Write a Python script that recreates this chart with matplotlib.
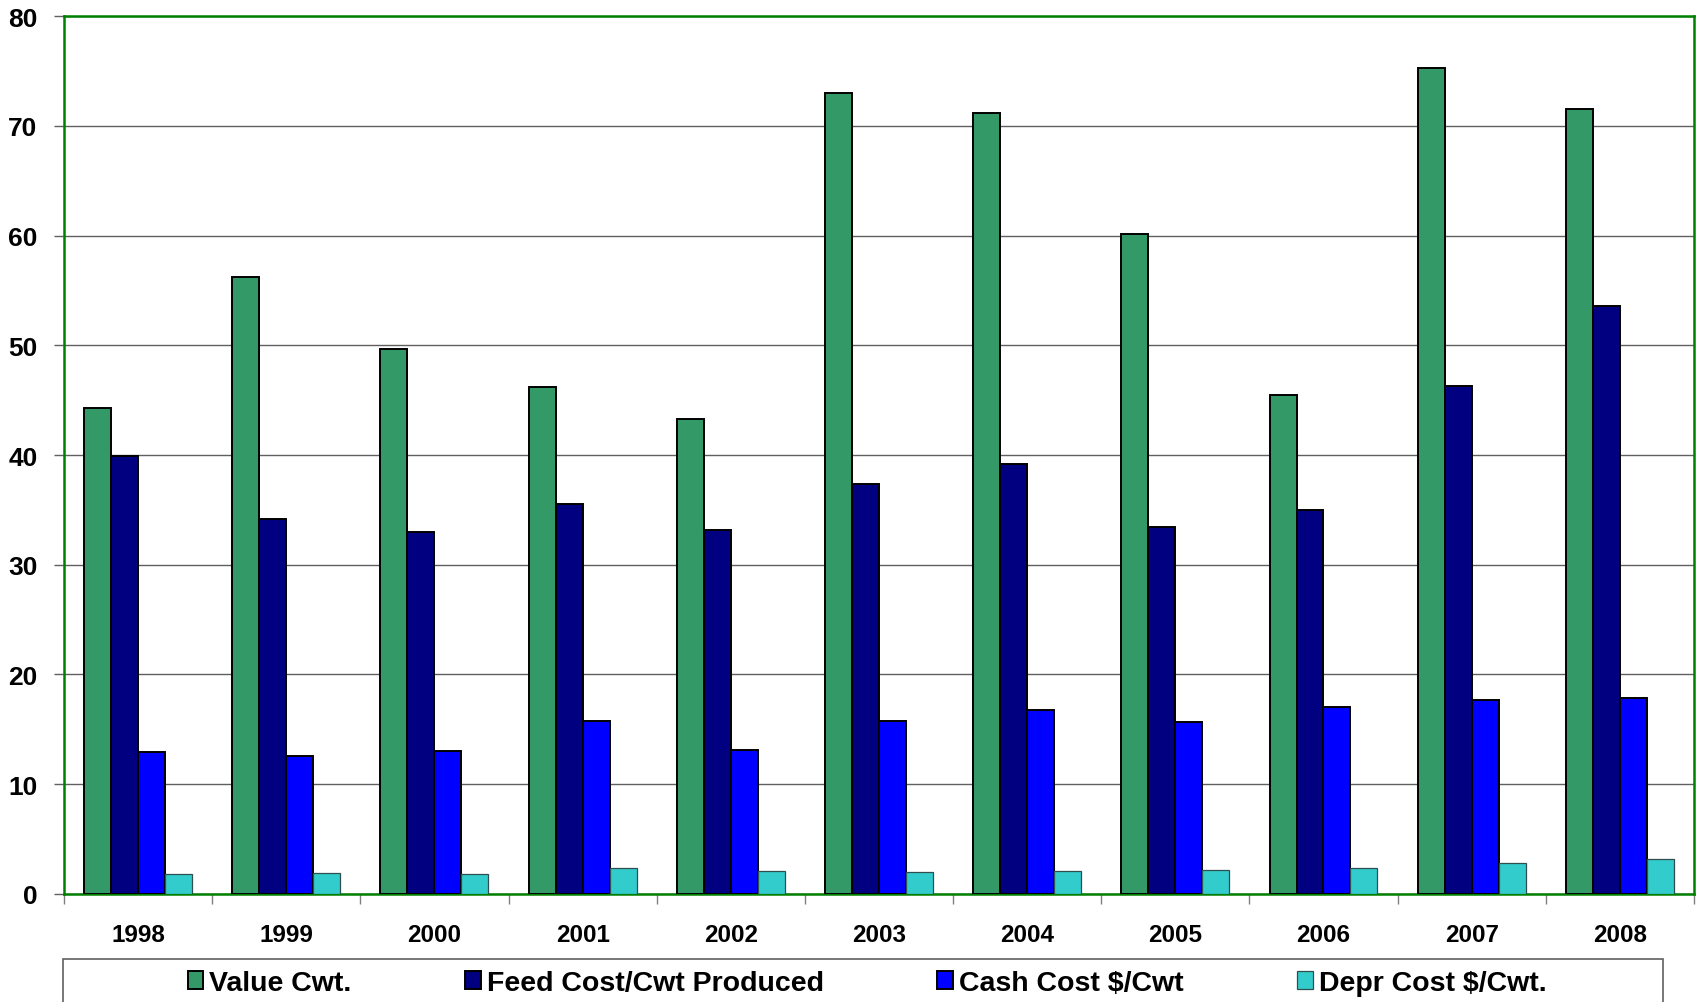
import numpy as np
import matplotlib.pyplot as plt
from matplotlib.patches import Rectangle

plt.rcParams['font.family'] = ['Liberation Sans', 'DejaVu Sans']

years = ["1998", "1999", "2000", "2001", "2002", "2003", "2004", "2005", "2006", "2007", "2008"]
value_cwt = [44.3, 56.2, 49.7, 46.2, 43.3, 73.0, 71.2, 60.1, 45.5, 75.3, 71.5]
feed_cost = [39.9, 34.2, 33.0, 35.5, 33.2, 37.4, 39.2, 33.4, 35.0, 46.3, 53.6]
cash_cost = [12.9, 12.6, 13.0, 15.8, 13.1, 15.8, 16.8, 15.7, 17.0, 17.7, 17.9]
depr_cost = [1.8, 1.9, 1.8, 2.4, 2.1, 2.0, 2.1, 2.2, 2.4, 2.8, 3.2]

series = [
    ("Value Cwt.", value_cwt, "#339966", "black", 1.4),
    ("Feed Cost/Cwt Produced", feed_cost, "#000080", "black", 1.4),
    ("Cash Cost $/Cwt", cash_cost, "#0000FF", "black", 1.4),
    ("Depr Cost $/Cwt.", depr_cost, "#33CCCC", "#2F4F4F", 0.9),
]

fig = plt.figure(figsize=(16.97, 10.03), dpi=100)
ax = fig.add_axes([0.0377, 0.1077, 0.9605, 0.8753])

x = np.arange(len(years))
w = 0.182
for i, (name, vals, color, ec, lw) in enumerate(series):
    ax.bar(x + (i - 1.5) * w, vals, w, color=color, edgecolor=ec, linewidth=lw,
           label=name, zorder=3)

ax.set_xlim(-0.5, len(years) - 0.5)
ax.set_ylim(0, 80)
ax.set_yticks(range(0, 81, 10))
ax.yaxis.grid(True, color="#606060", linewidth=1, zorder=0)

# ticks at category boundaries, labels in the middle
ax.set_xticks(np.arange(-0.5, len(years), 1))
ax.set_xticklabels([])
ax.set_xticks(x, minor=True)
ax.set_xticklabels(years, minor=True, fontsize=17.5, fontweight="bold")
ax.tick_params(axis="x", which="major", length=7, color="#808080", width=1)
ax.tick_params(axis="x", which="minor", length=0, pad=21)
ax.tick_params(axis="y", length=7, color="#606060", width=1, pad=12,
               labelsize=19)
for lab in ax.get_yticklabels():
    lab.set_fontweight("bold")

for s in ax.spines.values():
    s.set_color("#008000")
    s.set_linewidth(1.8)

leg = fig.legend(loc="center", bbox_to_anchor=(867 / 1697, 1 - 984 / 1003),
                 ncol=4, frameon=False, prop={"size": 20.5, "weight": "bold"},
                 handlelength=0.55, handleheight=0.55, handletextpad=0.2,
                 columnspacing=4.0, borderpad=0)
fig.patches.append(Rectangle((63 / 1697, -0.05), 1600 / 1697, 0.05 + 1 - 960 / 1003,
                             transform=fig.transFigure, facecolor="none",
                             edgecolor="#606060", linewidth=1.2))

fig.savefig("out.png", dpi=100)
